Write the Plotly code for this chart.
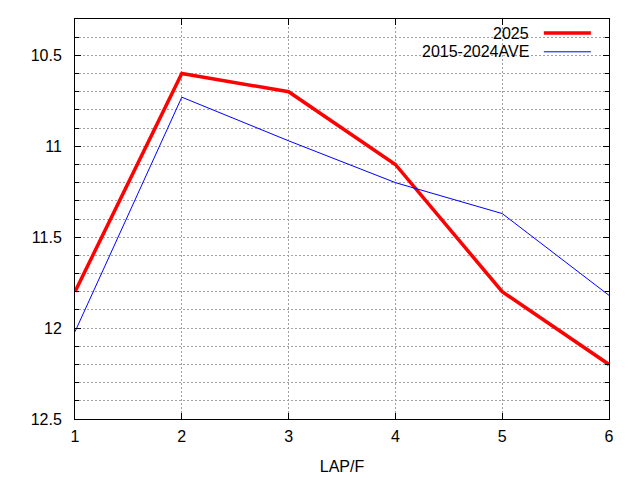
import plotly.graph_objects as go

laps = [1, 2, 3, 4, 5, 6]
y2025 = [11.8, 10.6, 10.7, 11.1, 11.8, 12.2]
yave = [12.02, 10.73, 10.97, 11.2, 11.37, 11.82]
names = ["2025", "2015-2024AVE"]
colors = ["#ff0000", "#0000ff"]
widths = [3.5, 1]

FONT = "Liberation Sans, Arial, sans-serif"
FS = 16
DASH = "2px,2px"

fig = go.Figure()
for name, ys, c, w in zip(names, [y2025, yave], colors, widths):
    fig.add_trace(go.Scatter(x=laps, y=ys, mode="lines", name=name,
                             line=dict(color=c, width=w), showlegend=False))

# custom gnuplot-style legend (text right, sample at right)
leg_y = [0.965, 0.918]
for name, c, w, ly in zip(names, colors, widths, leg_y):
    fig.add_annotation(xref="paper", yref="paper", x=0.853, y=ly, text=name,
                       showarrow=False, xanchor="right", yanchor="middle",
                       font=dict(family=FONT, size=FS, color="black"))
    fig.add_shape(type="line", xref="paper", yref="paper",
                  x0=0.878, x1=0.966, y0=ly, y1=ly,
                  line=dict(color=c, width=w))

axis_common = dict(showline=True, linecolor="black", linewidth=1, mirror="ticks",
                   ticks="inside", tickcolor="black", ticklen=6,
                   showgrid=True, gridcolor="#a0a0a0", griddash=DASH, gridwidth=1,
                   zeroline=False, tickfont=dict(family=FONT, size=FS, color="black"))

fig.update_xaxes(range=[1, 6], dtick=1, tick0=1, ticklabelstandoff=3,
                 title=dict(text="LAP/F", font=dict(family=FONT, size=FS, color="black"), standoff=16),
                 **axis_common)
fig.update_yaxes(range=[12.5, 10.3], dtick=0.5, tick0=10.5, ticklabelstandoff=9,
                 minor=dict(dtick=0.1, tick0=10.5, ticks="inside", ticklen=4, tickcolor="black",
                            showgrid=True, gridcolor="#a0a0a0", griddash=DASH, gridwidth=1),
                 **axis_common)

fig.update_layout(width=640, height=480,
                  margin=dict(l=67, r=39, t=11, b=69),
                  plot_bgcolor="white", paper_bgcolor="white",
                  font=dict(family=FONT, size=FS, color="black"))

fig.write_html("out.html")
